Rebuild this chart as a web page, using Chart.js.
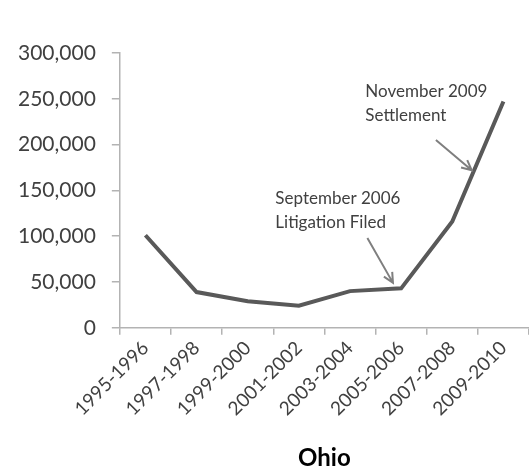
<!DOCTYPE html>
<html>
<head>
<meta charset="utf-8">
<script src="https://cdn.jsdelivr.net/npm/chart.js@4"></script>
<style>
  html, body { margin: 0; padding: 0; background: #fff; overflow: hidden; }
  #wrap { width: 529px; height: 473px; }
</style>
</head>
<body>
<div id="wrap"><canvas id="chart"></canvas></div>
<script>
// Datos
const categories = ['1995-1996', '1997-1998', '1999-2000', '2001-2002', '2003-2004', '2005-2006', '2007-2008', '2009-2010'];
const values = [101000, 39000, 29000, 24000, 40000, 43000, 116000, 247000];
const yMax = 300000;
const yStep = 50000;
const chartTitle = 'Ohio';

// Notas con flecha (en coordenadas de datos: índice de categoría, valor)
const notes = [
    { lines: ['September 2006', 'Litigation Filed'], text: [2.54, 141000], tail: [4.34, 98000], tip: [4.84, 49000] },
    { lines: ['November 2009', 'Settlement'], text: [4.30, 258000], tail: [5.68, 205000], tip: [6.38, 172000] }
];

const axisGray = '#b3b3b3';
const textGray = '#404040';

const notesPlugin = {
    id: 'notes',
    afterDatasetsDraw(chart) {
        const ctx = chart.ctx;
        const x = chart.scales.x;
        const y = chart.scales.y;
        ctx.save();
        notes.forEach(function(n) {
            // texto
            ctx.fillStyle = textGray;
            ctx.font = '17px Lato';
            ctx.textAlign = 'left';
            ctx.textBaseline = 'middle';
            const tx = x.getPixelForValue(n.text[0]);
            const ty = y.getPixelForValue(n.text[1]);
            n.lines.forEach(function(line, i) {
                ctx.fillText(line, tx, ty + i * 24);
            });
            // flecha
            const x1 = x.getPixelForValue(n.tail[0]);
            const y1 = y.getPixelForValue(n.tail[1]);
            const x2 = x.getPixelForValue(n.tip[0]);
            const y2 = y.getPixelForValue(n.tip[1]);
            const ang = Math.atan2(y2 - y1, x2 - x1);
            const head = 11;
            ctx.strokeStyle = '#7f7f7f';
            ctx.lineWidth = 2;
            ctx.beginPath();
            ctx.moveTo(x1, y1);
            ctx.lineTo(x2, y2);
            ctx.moveTo(x2 - head * Math.cos(ang - 0.45), y2 - head * Math.sin(ang - 0.45));
            ctx.lineTo(x2, y2);
            ctx.lineTo(x2 - head * Math.cos(ang + 0.45), y2 - head * Math.sin(ang + 0.45));
            ctx.stroke();
        });
        ctx.restore();
    }
};

new Chart(document.getElementById('chart'), {
    type: 'line',
    data: {
        labels: categories,
        datasets: [{
            data: values,
            borderColor: '#595959',
            borderWidth: 4,
            pointRadius: 0,
            tension: 0,
            fill: false
        }]
    },
    options: {
        responsive: true,
        maintainAspectRatio: false,
        animation: false,
        layout: { padding: { top: 53, right: 0, left: 2, bottom: 0 } },
        plugins: {
            legend: { display: false },
            tooltip: { enabled: false }
        },
        scales: {
            x: {
                offset: true,
                grid: { offset: true, drawOnChartArea: false, color: axisGray, tickLength: 7, lineWidth: 1.5 },
                border: { color: axisGray, width: 1.5 },
                ticks: { color: textGray, font: { family: 'Lato', size: 19 }, minRotation: 45, maxRotation: 45, padding: 2, autoSkip: false },
                title: { display: true, text: chartTitle, color: '#000', font: { family: 'Lato', size: 24, weight: 'bold' }, padding: { top: 22, bottom: 0 } }
            },
            y: {
                min: 0,
                max: yMax,
                grid: { drawOnChartArea: false, color: axisGray, tickLength: 8, lineWidth: 1.5 },
                border: { color: axisGray, width: 1.5 },
                ticks: {
                    stepSize: yStep,
                    color: textGray,
                    padding: 16,
                    font: { family: 'Lato', size: 21 },
                    callback: function(v) { return v.toLocaleString('en-US'); }
                }
            }
        }
    },
    plugins: [notesPlugin]
});
</script>
</body>
</html>
